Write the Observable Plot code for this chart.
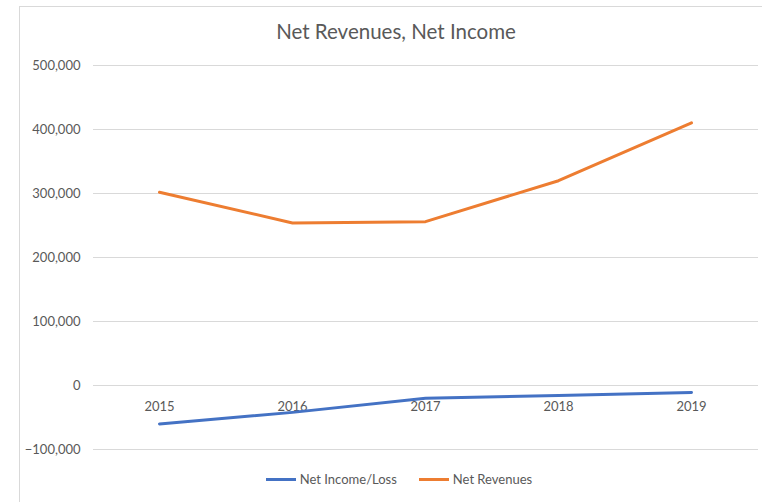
<!DOCTYPE html>
<html>
<head>
<meta charset="utf-8">
<script src="https://cdn.jsdelivr.net/npm/d3@7"></script>
<script src="https://cdn.jsdelivr.net/npm/@observablehq/plot@0.6"></script>
<style>
  html, body { margin: 0; padding: 0; background: #fff; }
  #wrap { position: relative; width: 762px; height: 502px; overflow: hidden; font-family: Lato, "Open Sans", sans-serif; color: #595959; }
  #frame { position: absolute; left: 19px; top: 6px; width: 760px; height: 510px; border: 1px solid #d9d9d9; box-sizing: border-box; }
  #title { position: absolute; left: 0; width: 792px; top: 19px; text-align: center; font-size: 20.5px; color: #595959; }
  #chart { position: absolute; left: 0; top: 0; }
  #legend { position: absolute; top: 471px; left: 0; width: 798px; display: flex; justify-content: center; gap: 22px; font-size: 13px; color: #595959; }
  .item { display: flex; align-items: center; gap: 4px; }
  .sw { width: 30px; height: 3px; display: inline-block; }
</style>
</head>
<body>
<div id="wrap">
  <div id="frame"></div>
  <div id="chart"></div>
  <div id="title">Net Revenues, Net Income</div>
  <div id="legend"></div>
</div>
<script>
const years = [2015, 2016, 2017, 2018, 2019];
const netIncome = [-60000, -42000, -20000, -15500, -11000];
const netRevenues = [302000, 254000, 256000, 320000, 410500];
const yTicks = [-100000, 0, 100000, 200000, 300000, 400000, 500000];
const seriesNames = ["Net Income/Loss", "Net Revenues"];
const seriesColors = ["#4472C4", "#ED7D31"];

const rows = [];
years.forEach((y, i) => {
  rows.push({year: y, value: netIncome[i], series: seriesNames[0]});
  rows.push({year: y, value: netRevenues[i], series: seriesNames[1]});
});

const chart = Plot.plot({
  width: 762,
  height: 502,
  marginLeft: 93,
  marginRight: 4,
  marginTop: 65,
  marginBottom: 53,
  style: {fontFamily: "Lato, 'Open Sans', sans-serif", fontSize: "13px", color: "#595959", background: "transparent"},
  x: {type: "point", domain: years, range: [159, 691], padding: 0, axis: null},
  y: {domain: [-100000, 500000], axis: null},
  color: {domain: seriesNames, range: seriesColors},
  marks: [
    Plot.ruleY(yTicks, {stroke: "#d9d9d9", strokeWidth: 1}),
    Plot.axisY({ticks: yTicks, label: null, tickSize: 0, tickPadding: 13, tickFormat: d3.format(","), fill: "#595959", fontSize: 13}),
    Plot.text(years, {x: d => d, y: () => 0, dy: 21, text: d => String(d), fill: "#595959", fontSize: 13}),
    Plot.line(rows, {x: "year", y: "value", z: "series", stroke: "series", strokeWidth: 3, strokeLinejoin: "round", strokeLinecap: "round"})
  ]
});
document.getElementById("chart").appendChild(chart);

const legend = document.getElementById("legend");
seriesNames.forEach((n, i) => {
  const it = document.createElement("div");
  it.className = "item";
  const sw = document.createElement("span");
  sw.className = "sw";
  sw.style.background = seriesColors[i];
  const t = document.createElement("span");
  t.textContent = n;
  it.appendChild(sw); it.appendChild(t);
  legend.appendChild(it);
});
</script>
</body>
</html>
